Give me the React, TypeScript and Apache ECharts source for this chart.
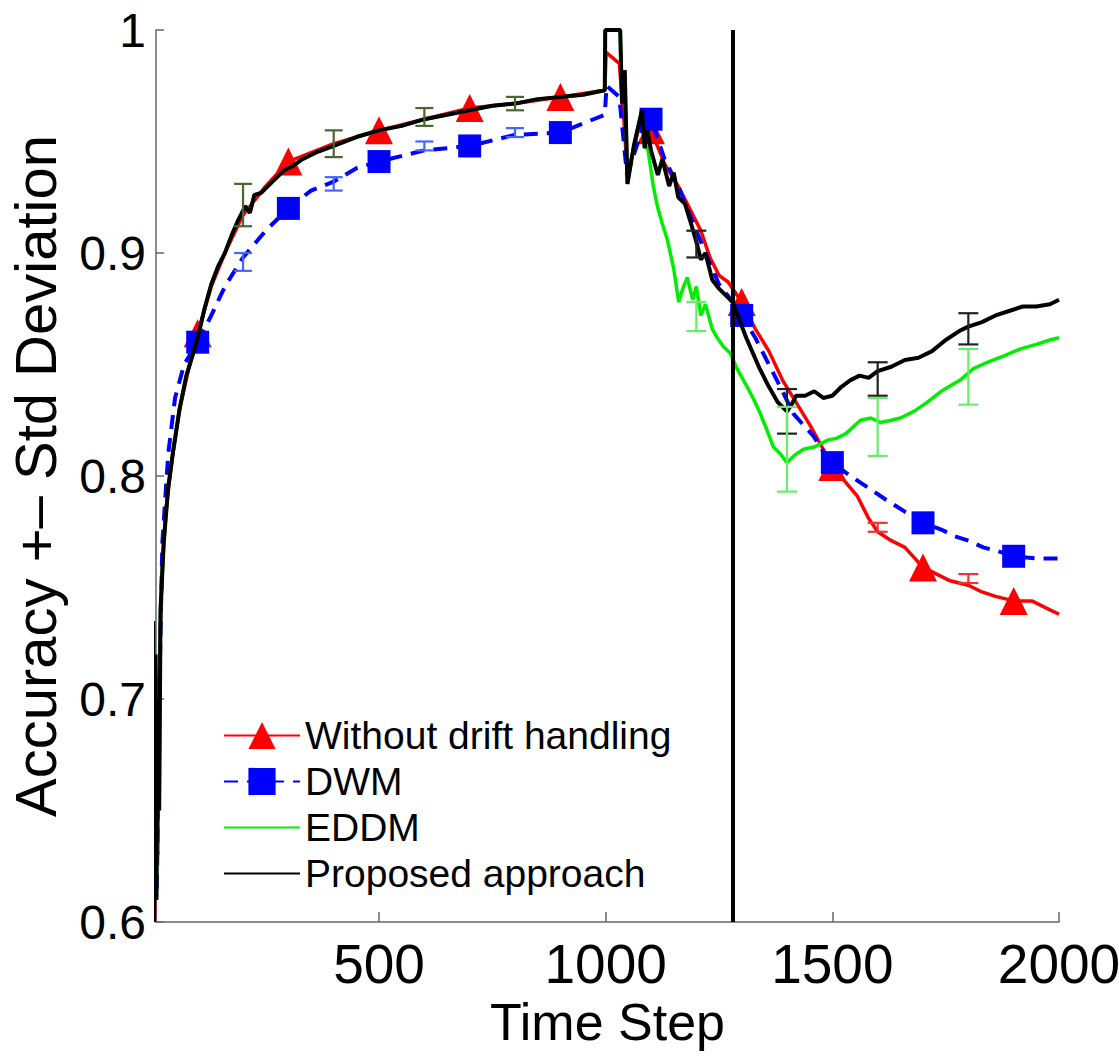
import React, { useEffect, useRef } from "react";
import * as echarts from "echarts";

// ---------- data ----------
const xTickValues = [500, 1000, 1500, 2000];
const driftPoint = 1280;
const markerSteps = [100, 300, 500, 700, 900, 1100, 1300, 1500, 1700, 1900];

const seriesNames = ["Without drift handling", "DWM", "EDDM", "Proposed approach"];

// Proposed approach (black)
const proposedEarly: number[][] = [
  [2, 0.735], [4, 0.6], [7, 0.72], [9, 0.61], [12, 0.7], [15, 0.65], [18, 0.74],
  [25, 0.77], [35, 0.795], [45, 0.81], [60, 0.83], [75, 0.845], [90, 0.855],
  [100, 0.862], [115, 0.875], [130, 0.886], [145, 0.894], [160, 0.9], [175, 0.908],
  [190, 0.915], [205, 0.921], [215, 0.918], [225, 0.926], [240, 0.927], [255, 0.93],
  [270, 0.933], [290, 0.937], [310, 0.939], [330, 0.942], [360, 0.945], [400, 0.948],
  [450, 0.952], [500, 0.955], [550, 0.957], [600, 0.96], [650, 0.962], [700, 0.964],
  [750, 0.966], [800, 0.967], [850, 0.969], [900, 0.97], [950, 0.971], [998, 0.973],
  [999, 1.0], [1032, 1.0], [1036, 0.967], [1042, 0.982], [1048, 0.931], [1062, 0.948],
  [1080, 0.964], [1086, 0.947],
];
const proposedLate: number[][] = [
  [1092, 0.955], [1100, 0.946], [1115, 0.935], [1125, 0.942], [1140, 0.93], [1150, 0.936],
  [1160, 0.925], [1175, 0.922], [1190, 0.912], [1200, 0.905], [1210, 0.897], [1220, 0.9],
  [1235, 0.888], [1250, 0.884], [1265, 0.881], [1280, 0.878], [1295, 0.87], [1310, 0.862],
  [1325, 0.855], [1340, 0.848], [1360, 0.84], [1380, 0.833], [1400, 0.829], [1410, 0.832],
  [1420, 0.836], [1440, 0.836], [1460, 0.838], [1480, 0.835], [1500, 0.836], [1520, 0.84],
  [1540, 0.843], [1560, 0.845], [1580, 0.844], [1600, 0.847], [1630, 0.849], [1660, 0.852],
  [1690, 0.853], [1720, 0.856], [1750, 0.861], [1780, 0.865], [1800, 0.867], [1830, 0.869],
  [1860, 0.872], [1890, 0.874], [1920, 0.876], [1950, 0.876], [1980, 0.877], [2000, 0.879],
];

// EDDM (green) — identical to proposed before the drift, then its own path
const eddmLate: number[][] = [
  [1092, 0.948], [1105, 0.93], [1114, 0.921], [1125, 0.913], [1136, 0.906], [1150, 0.893],
  [1161, 0.878], [1170, 0.884], [1180, 0.889], [1192, 0.879], [1200, 0.885], [1210, 0.872],
  [1220, 0.877], [1235, 0.866], [1246, 0.862], [1260, 0.858], [1275, 0.855], [1290, 0.848],
  [1312, 0.84], [1325, 0.835], [1341, 0.828], [1355, 0.821], [1370, 0.813], [1385, 0.81],
  [1400, 0.806], [1415, 0.809], [1436, 0.812], [1460, 0.813], [1489, 0.816], [1510, 0.817],
  [1530, 0.819], [1562, 0.825], [1585, 0.826], [1606, 0.824], [1630, 0.825], [1650, 0.826],
  [1680, 0.829], [1709, 0.833], [1740, 0.838], [1782, 0.843], [1810, 0.848], [1842, 0.851],
  [1880, 0.854], [1915, 0.857], [1950, 0.859], [1980, 0.861], [2000, 0.862],
];

// Without drift handling (red)
const noDriftValues: number[][] = [
  [2, 0.73], [5, 0.6], [9, 0.71], [12, 0.63], [16, 0.72], [22, 0.76], [30, 0.785],
  [45, 0.81], [60, 0.83], [80, 0.848], [100, 0.864], [130, 0.885], [160, 0.9],
  [200, 0.917], [250, 0.93], [300, 0.941], [400, 0.949], [500, 0.955], [600, 0.96],
  [700, 0.965], [800, 0.967], [900, 0.97], [998, 0.973], [1001, 0.99], [1030, 0.985],
  [1040, 0.96], [1048, 0.935], [1080, 0.962], [1100, 0.955], [1130, 0.94], [1160, 0.93],
  [1190, 0.918], [1210, 0.91], [1230, 0.898], [1250, 0.89], [1270, 0.887], [1300, 0.878],
  [1330, 0.866], [1360, 0.856], [1390, 0.843], [1420, 0.833], [1450, 0.823], [1480, 0.812],
  [1500, 0.804], [1530, 0.797], [1555, 0.791], [1580, 0.781], [1600, 0.775], [1630, 0.771],
  [1660, 0.768], [1700, 0.759], [1730, 0.756], [1760, 0.753], [1800, 0.751], [1830, 0.748],
  [1860, 0.746], [1900, 0.744], [1940, 0.744], [1970, 0.741], [2000, 0.738],
];

// DWM (blue dashed)
const dwmValues: number[][] = [
  [10, 0.615], [15, 0.7], [22, 0.77], [35, 0.81], [50, 0.835], [70, 0.85], [100, 0.86],
  [130, 0.872], [160, 0.885], [200, 0.898], [250, 0.91], [300, 0.92], [350, 0.928],
  [400, 0.932], [450, 0.938], [500, 0.941], [600, 0.946], [700, 0.948], [800, 0.953],
  [900, 0.954], [998, 0.962], [1002, 0.975], [1030, 0.97], [1047, 0.935], [1080, 0.955],
  [1100, 0.96], [1130, 0.942], [1160, 0.93], [1190, 0.915], [1220, 0.9], [1250, 0.886],
  [1280, 0.878], [1300, 0.872], [1330, 0.862], [1360, 0.85], [1390, 0.838], [1414, 0.828],
  [1440, 0.822], [1458, 0.818], [1480, 0.811], [1500, 0.806], [1540, 0.8], [1577, 0.795],
  [1621, 0.789], [1660, 0.784], [1700, 0.779], [1740, 0.776], [1770, 0.773], [1800, 0.771],
  [1833, 0.768], [1870, 0.766], [1900, 0.764], [1950, 0.763], [2000, 0.763],
];

// error bars: [x, low, high]
const sharedErrorBars: number[][] = [
  [200, 0.912, 0.931], [400, 0.943, 0.955], [600, 0.957, 0.965], [800, 0.964, 0.97],
];
const dwmErrorBars: number[][] = [
  [200, 0.892, 0.9], [400, 0.928, 0.934], [600, 0.946, 0.95], [800, 0.952, 0.956],
];
const proposedErrorBars: number[][] = [
  [1200, 0.898, 0.91], [1400, 0.819, 0.839], [1600, 0.836, 0.851], [1800, 0.859, 0.873],
];
const eddmErrorBars: number[][] = [
  [1200, 0.865, 0.878], [1400, 0.793, 0.831], [1600, 0.809, 0.835], [1800, 0.832, 0.857],
];
const noDriftErrorBars: number[][] = [
  [1600, 0.775, 0.779], [1800, 0.752, 0.756],
];

// ---------- chart ----------
const FONT = "'Liberation Sans', Arial, Helvetica, sans-serif";

function errorBarSeries(data: number[][], color: string, half: number) {
  return {
    type: "custom",
    data,
    encode: { x: 0, y: [1, 2] },
    silent: true,
    z: 5,
    renderItem: (_params: any, api: any) => {
      const x = api.value(0);
      const lo = api.coord([x, api.value(1)]);
      const hi = api.coord([x, api.value(2)]);
      const style = { stroke: color, lineWidth: 2.2 };
      return {
        type: "group",
        children: [
          { type: "line", shape: { x1: lo[0], y1: lo[1], x2: hi[0], y2: hi[1] }, style },
          { type: "line", shape: { x1: lo[0] - half, y1: lo[1], x2: lo[0] + half, y2: lo[1] }, style },
          { type: "line", shape: { x1: hi[0] - half, y1: hi[1], x2: hi[0] + half, y2: hi[1] }, style },
        ],
      };
    },
  };
}

export default function App() {
  const ref = useRef<HTMLDivElement>(null);

  useEffect(() => {
    if (!ref.current) return;
    const chart = echarts.init(ref.current, undefined, { renderer: "svg" });
    const markers = new Set(markerSteps);
    const proposed = proposedEarly.concat(proposedLate);
    const eddm = proposedEarly.concat(eddmLate);

    chart.setOption({
      animation: false,
      backgroundColor: "#ffffff",
      grid: { left: 156, right: 60, top: 30, bottom: 134, outerBoundsMode: "none", containLabel: false },
      legend: {
        orient: "vertical",
        left: 218,
        top: 711,
        itemWidth: 76,
        itemHeight: 34,
        itemGap: 7,
        selectedMode: false,
        textStyle: { fontFamily: FONT, fontSize: 39, color: "#000" },
        data: [
          { name: seriesNames[0] },
          { name: seriesNames[1] },
          { name: seriesNames[2], itemStyle: { opacity: 0 } },
          { name: seriesNames[3], itemStyle: { opacity: 0 } },
        ],
      },
      xAxis: {
        type: "value",
        min: 8,
        max: 2000,
        axisLine: { show: true, lineStyle: { color: "#666", width: 1.5 } },
        axisTick: {
          show: true,
          inside: true,
          length: 10,
          customValues: xTickValues,
          lineStyle: { color: "#666", width: 1.5 },
        },
        axisLabel: {
          customValues: xTickValues,
          fontFamily: FONT,
          fontSize: 55,
          color: "#000",
          margin: 14,
          formatter: (v: number) => String(v),
        },
        splitLine: { show: false },
        name: "Time Step",
        nameLocation: "middle",
        nameGap: 72,
        nameTextStyle: { fontFamily: FONT, fontSize: 52, color: "#000" },
      },
      yAxis: {
        type: "value",
        min: 0.6,
        max: 1,
        interval: 0.1,
        axisLine: { show: true, lineStyle: { color: "#666", width: 1.5 } },
        axisTick: { show: true, inside: true, length: 8, lineStyle: { color: "#666", width: 1.5 } },
        axisLabel: {
          fontFamily: FONT,
          fontSize: 48,
          color: "#000",
          margin: 10,
          formatter: (v: number) => (Math.abs(v - 1) < 1e-9 ? "1" : v.toFixed(1)),
        },
        splitLine: { show: false },
        name: "Accuracy +\u2013 Std Deviation",
        nameLocation: "middle",
        nameGap: 92,
        nameTextStyle: { fontFamily: FONT, fontSize: 58, color: "#000" },
      },
      series: [
        {
          name: seriesNames[0],
          type: "line",
          data: noDriftValues,
          color: "#ff0000",
          lineStyle: { color: "#ff0000", width: 3.5 },
          itemStyle: { color: "#ff0000" },
          symbol: "triangle",
          showSymbol: true,
          showAllSymbol: true,
          symbolSize: (v: number[]) => (markers.has(v[0]) ? 28 : 0),
          z: 2,
        },
        {
          name: seriesNames[1],
          type: "line",
          data: dwmValues,
          color: "#0000ff",
          lineStyle: { color: "#0000ff", width: 4, type: [14, 9] },
          itemStyle: { color: "#0000ff" },
          symbol: "rect",
          showSymbol: true,
          showAllSymbol: true,
          symbolSize: (v: number[]) => (markers.has(v[0]) ? 23 : 0),
          z: 3,
        },
        {
          name: seriesNames[2],
          type: "line",
          data: eddm,
          color: "#00ee00",
          lineStyle: { color: "#00ee00", width: 3.5 },
          itemStyle: { color: "#00ee00" },
          symbol: "none",
          z: 3,
        },
        {
          name: seriesNames[3],
          type: "line",
          data: proposed,
          color: "#000000",
          lineStyle: { color: "#000000", width: 4 },
          itemStyle: { color: "#000000" },
          symbol: "none",
          z: 4,
          markLine: {
            silent: true,
            symbol: ["none", "none"],
            label: { show: false },
            lineStyle: { color: "#000", width: 4, type: "solid" },
            data: [{ xAxis: driftPoint }],
          },
        },
        errorBarSeries(sharedErrorBars, "#4a6630", 9),
        errorBarSeries(dwmErrorBars, "#4466ff", 9),
        errorBarSeries(proposedErrorBars, "#222222", 10),
        errorBarSeries(eddmErrorBars, "#66ee66", 10),
        errorBarSeries(noDriftErrorBars, "#ee3333", 10),
      ],
    });
    return () => chart.dispose();
  }, []);

  return (
    <div
      ref={ref}
      style={{ position: "absolute", left: 0, top: 0, width: 1119, height: 1056, background: "#fff" }}
    />
  );
}
